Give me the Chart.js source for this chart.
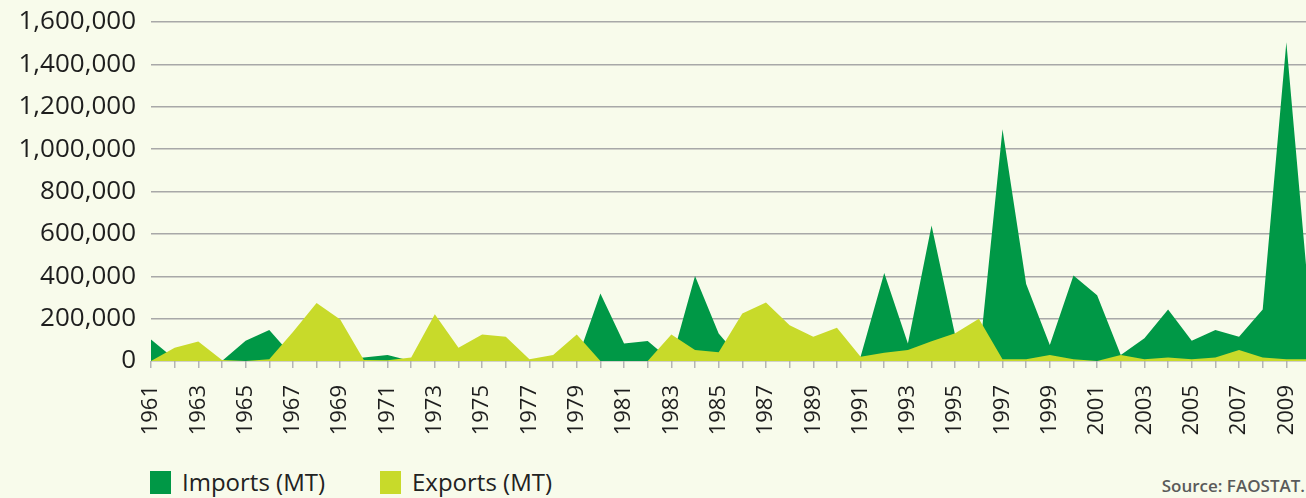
<!DOCTYPE html>
<html>
<head>
<meta charset="utf-8">
<script src="https://cdn.jsdelivr.net/npm/chart.js@4.4.0/dist/chart.umd.min.js"></script>
<style>
    html, body {
        margin: 0;
        padding: 0;
        overflow: hidden;
        background: #f8fbeb;
        width: 1306px;
        height: 498px;
        font-family: 'Open Sans', sans-serif;
    }
    #chartBox {
        position: absolute;
        left: 0;
        top: 0;
    }
    .legend {
        position: absolute;
        top: 468px;
        font-size: 24px;
        color: #222;
        line-height: 28px;
        white-space: nowrap;
    }
    .legend .box {
        display: inline-block;
        width: 21px;
        height: 23px;
        vertical-align: -3px;
        margin-right: 11px;
    }
    .source {
        position: absolute;
        right: 1px;
        top: 474px;
        font-size: 17px;
        font-weight: 600;
        color: #5a5a5a;
        white-space: nowrap;
    }
</style>
</head>
<body>
<div id="chartBox"><canvas id="tradeChart" width="1312" height="440"></canvas></div>

<div class="legend" style="left:150px"><span class="box" style="background:#009846"></span>Imports (MT)</div>
<div class="legend" style="left:380px"><span class="box" style="background:#c8da2a"></span>Exports (MT)</div>
<div class="source">Source: FAOSTAT.</div>

<script>
// years on the x axis
const years = [
    '1961', '1962', '1963', '1964', '1965', '1966', '1967', '1968', '1969', '1970',
    '1971', '1972', '1973', '1974', '1975', '1976', '1977', '1978', '1979', '1980',
    '1981', '1982', '1983', '1984', '1985', '1986', '1987', '1988', '1989', '1990',
    '1991', '1992', '1993', '1994', '1995', '1996', '1997', '1998', '1999', '2000',
    '2001', '2002', '2003', '2004', '2005', '2006', '2007', '2008', '2009', '2010'
];

// values (metric tonnes)
const imports = [
    102000, 10000, 5000, 0, 96000, 146000, 20000, 10000, 5000, 17000,
    28000, 0, 0, 0, 0, 0, 0, 0, 0, 318000,
    83000, 94000, 0, 401000, 130000, 0, 0, 0, 0, 0,
    20000, 415000, 83000, 640000, 120000, 0, 1094000, 364000, 75000, 404000,
    310000, 28000, 107000, 243000, 96000, 146000, 114000, 243000, 1504000, 240000
];

const exports = [
    0, 63000, 92000, 5000, 0, 8000, 137000, 274000, 196000, 5000,
    3000, 17000, 221000, 63000, 125000, 114000, 8000, 28000, 125000, 0,
    0, 0, 125000, 52000, 41000, 224000, 276000, 169000, 114000, 157000,
    20000, 39000, 52000, 93000, 131000, 200000, 8000, 8000, 28000, 8000,
    0, 28000, 8000, 17000, 8000, 17000, 52000, 17000, 8000, 8000
];

const yTicks = [0, 200000, 400000, 600000, 800000, 1000000, 1200000, 1400000, 1600000];

const ctx = document.getElementById('tradeChart').getContext('2d');
new Chart(ctx, {
    type: 'line',
    data: {
        labels: years,
        datasets: [
            {
                label: 'Imports (MT)',
                data: imports,
                backgroundColor: '#009846',
                borderWidth: 0,
                pointRadius: 0,
                fill: 'origin',
                order: 2
            },
            {
                label: 'Exports (MT)',
                data: exports,
                backgroundColor: '#c8da2a',
                borderWidth: 0,
                pointRadius: 0,
                fill: 'origin',
                order: 1
            }
        ]
    },
    options: {
        responsive: false,
        animation: false,
        devicePixelRatio: 1,
        layout: { padding: { top: 22, right: 2, left: 0, bottom: 0 } },
        plugins: {
            legend: { display: false },
            tooltip: { enabled: false }
        },
        scales: {
            x: {
                offset: false,
                border: { display: false },
                grid: {
                    drawOnChartArea: false,
                    drawTicks: true,
                    tickLength: 7,
                    color: '#b5b5b5',
                    lineWidth: 1.5
                },
                ticks: {
                    autoSkip: false,
                    maxRotation: 90,
                    minRotation: 90,
                    padding: 17,
                    color: '#1e1e1e',
                    font: { family: 'Open Sans', size: 22 },
                    callback: function (value, index) {
                        return index % 2 === 0 ? years[index] : '';
                    }
                },
                afterFit: function (scale) {
                    scale.height = 79;
                    // keep the plot running right up to the canvas edge
                    scale.paddingLeft = 0;
                    scale.paddingRight = 0;
                }
            },
            y: {
                min: 0,
                max: 1600000,
                border: { display: false },
                grid: {
                    color: '#a8a8a8',
                    lineWidth: 1.5,
                    drawTicks: false
                },
                afterBuildTicks: function (scale) {
                    scale.ticks = yTicks.map(v => ({ value: v }));
                },
                ticks: {
                    padding: 15,
                    color: '#1e1e1e',
                    font: { family: 'Open Sans', size: 26 },
                    callback: function (value) {
                        return value.toLocaleString('en-US');
                    }
                },
                afterFit: function (scale) {
                    scale.width = 151;
                    scale.paddingTop = 0;
                    scale.paddingBottom = 0;
                }
            }
        }
    }
});
</script>
</body>
</html>
